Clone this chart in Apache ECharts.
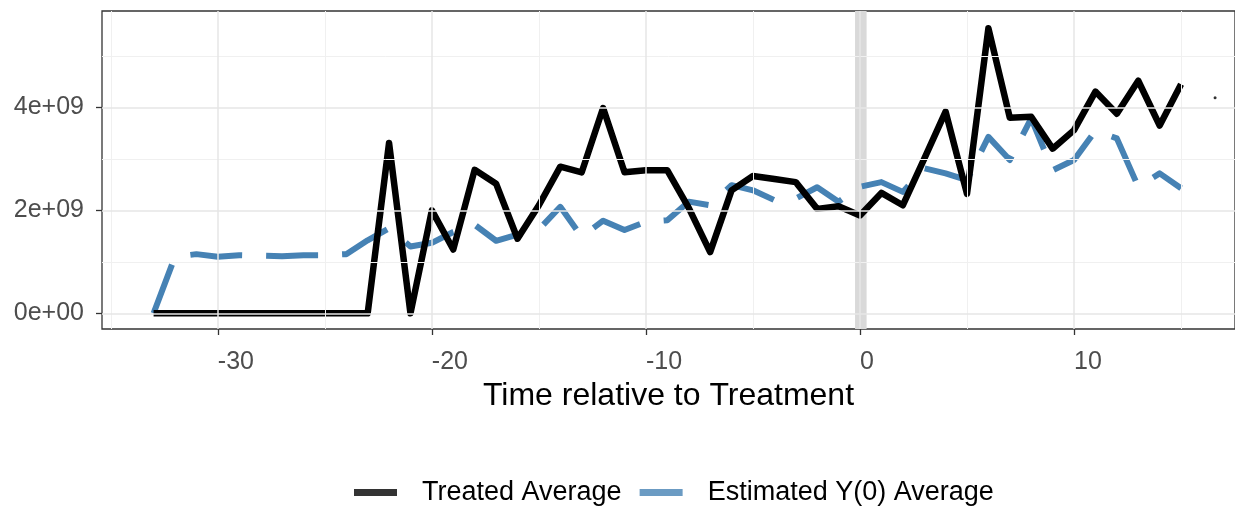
<!DOCTYPE html>
<html>
<head>
<meta charset="utf-8">
<script src="https://cdn.jsdelivr.net/npm/echarts@6/dist/echarts.min.js"></script>
<style>
  html, body { margin: 0; padding: 0; background: #ffffff; }
  #chart { width: 1235px; height: 506px; }
</style>
</head>
<body>
<div id="chart"></div>
<script>
// ---- data ----
const timeValues = [-33,-32,-31,-30,-29,-28,-27,-26,-25,-24,-23,-22,-21,-20,-19,-18,-17,-16,-15,-14,-13,-12,-11,-10,-9,-8,-7,-6,-5,-4,-3,-2,-1,0,1,2,3,4,5,6,7,8,9,10,11,12,13,14,15];
const treatedAverage = [0,0,0,0,0,0,0,0,0,0,0,3.31e9,0,2.0e9,1.24e9,2.79e9,2.52e9,1.45e9,2.1e9,2.85e9,2.74e9,3.99e9,2.74e9,2.78e9,2.78e9,2.05e9,1.19e9,2.39e9,2.67e9,2.61e9,2.55e9,2.03e9,2.08e9,1.9e9,2.34e9,2.1e9,3.0e9,3.92e9,2.32e9,5.54e9,3.8e9,3.82e9,3.2e9,3.56e9,4.31e9,3.88e9,4.52e9,3.65e9,4.45e9];
const estimatedY0Average = [0,1.1e9,1.15e9,1.1e9,1.13e9,1.12e9,1.11e9,1.13e9,1.13e9,1.15e9,1.42e9,1.65e9,1.3e9,1.37e9,1.58e9,1.72e9,1.41e9,1.53e9,1.63e9,2.07e9,1.49e9,1.8e9,1.62e9,1.78e9,1.81e9,2.17e9,2.1e9,2.49e9,2.39e9,2.2e9,2.23e9,2.45e9,2.17e9,2.46e9,2.55e9,2.36e9,2.82e9,2.72e9,2.59e9,3.43e9,2.98e9,3.79e9,2.78e9,2.98e9,3.55e9,3.4e9,2.46e9,2.72e9,2.43e9];
const strayPoint = [16.59, 4.19e9];
const seriesNames = ['Treated Average', 'Estimated Y(0) Average'];
const seriesColors = ['#000000', '#4682b4'];
const xTickValues = [-30, -20, -10, 0, 10];
const xMinorGrid = [-35, -25, -15, -5, 5, 15];
const yTickValues = [0, 2e9, 4e9];
const yTickLabels = ['0e+00', '2e+09', '4e+09'];
const yMinorGrid = [1e9, 3e9, 5e9];
const treatmentBand = [-0.23, 0.31];
const axisTitle = 'Time relative to Treatment';

// ---- chart ----
const FONT = '"Liberation Sans", Arial, sans-serif';
const KEY_SUFFIX = ' [key]';
const chart = echarts.init(document.getElementById('chart'), null, { renderer: 'canvas' });

const pairs = (ys) => timeValues.map((t, i) => [t, ys[i]]);
const vLines = (vals, width, color) => vals.map(v => ({ xAxis: v, lineStyle: { width: width, color: color, type: 'solid' } }));
const hLines = (vals, width, color) => vals.map(v => ({ yAxis: v, lineStyle: { width: width, color: color, type: 'solid' } }));

const option = {
  animation: false,
  backgroundColor: '#ffffff',
  grid: {
    left: 102, top: 11, width: 1138, height: 318,
    show: true, borderColor: '#333333', borderWidth: 1.3, backgroundColor: 'transparent',
    containLabel: false
  },
  xAxis: {
    type: 'value',
    min: -35.41, max: 17.52,
    axisLine: { show: false, onZero: false },
    splitLine: { show: false },
    axisTick: { show: true, length: 6, lineStyle: { color: '#333333', width: 1.3 }, customValues: xTickValues },
    axisLabel: {
      customValues: xTickValues, align: 'left', margin: 21,
      fontFamily: FONT, fontSize: 25, color: '#4d4d4d',
      formatter: v => String(v)
    },
    name: axisTitle, nameLocation: 'middle', nameGap: 51,
    nameTextStyle: { fontFamily: FONT, fontSize: 32, color: '#000000' }
  },
  yAxis: {
    type: 'value',
    min: -0.305e9, max: 5.876e9,
    axisLine: { show: false, onZero: false },
    splitLine: { show: false },
    axisTick: { show: true, length: 6, lineStyle: { color: '#333333', width: 1.3 }, customValues: yTickValues },
    axisLabel: {
      customValues: yTickValues, margin: 18,
      fontFamily: FONT, fontSize: 25, color: '#4d4d4d',
      padding: [6, 0, 0, 0],
      formatter: v => { const i = yTickValues.indexOf(v); return i >= 0 ? yTickLabels[i] : ''; }
    }
  },
  legend: {
    data: seriesNames.map(n => ({ name: n + KEY_SUFFIX, icon: 'rect' })),
    formatter: n => n.replace(KEY_SUFFIX, ''),
    left: 349, top: 474,
    orient: 'horizontal',
    itemWidth: 43, itemHeight: 7, itemGap: 18,
    textStyle: { fontFamily: FONT, fontSize: 27, color: '#000000', padding: [0, 0, 0, 20] }
  },
  series: [
    {
      name: 'grid', type: 'line', data: [], z: 1, silent: true,
      markLine: {
        silent: true, symbol: 'none', label: { show: false }, animation: false,
        data: [].concat(
          vLines(xMinorGrid, 1, '#f0f0f0'),
          hLines(yMinorGrid, 1, '#f0f0f0'),
          vLines(xTickValues, 1.5, '#e6e6e6'),
          hLines(yTickValues, 1.5, '#e6e6e6')
        )
      },
      markArea: {
        silent: true, label: { show: false },
        itemStyle: { color: '#d9d9d9' },
        data: [[{ xAxis: treatmentBand[0] }, { xAxis: treatmentBand[1] }]]
      }
    },
    // legend keys: solid bars as in the reference legend; these draw no data
    {
      name: seriesNames[0] + KEY_SUFFIX, type: 'scatter', data: [], symbol: 'rect', silent: true,
      itemStyle: { color: seriesColors[0], borderWidth: 0 }
    },
    {
      name: seriesNames[1] + KEY_SUFFIX, type: 'scatter', data: [], symbol: 'rect', silent: true,
      itemStyle: { color: seriesColors[1], borderWidth: 0 }
    },
    {
      name: seriesNames[1], type: 'line', data: pairs(estimatedY0Average), z: 2,
      showSymbol: false, symbol: 'none',
      itemStyle: { color: seriesColors[1] },
      lineStyle: { color: seriesColors[1], width: 6, type: [52, 24], cap: 'butt', join: 'round' }
    },
    {
      name: seriesNames[0], type: 'line', data: pairs(treatedAverage), z: 3,
      showSymbol: false, symbol: 'none',
      itemStyle: { color: seriesColors[0] },
      lineStyle: { color: seriesColors[0], width: 6.5, type: 'solid', cap: 'butt', join: 'round' }
    },
    {
      name: 'stray', type: 'scatter', data: [strayPoint], z: 4,
      symbol: 'circle', symbolSize: 3, itemStyle: { color: '#000000' }, silent: true
    }
  ]
};
chart.setOption(option);
</script>
</body>
</html>
